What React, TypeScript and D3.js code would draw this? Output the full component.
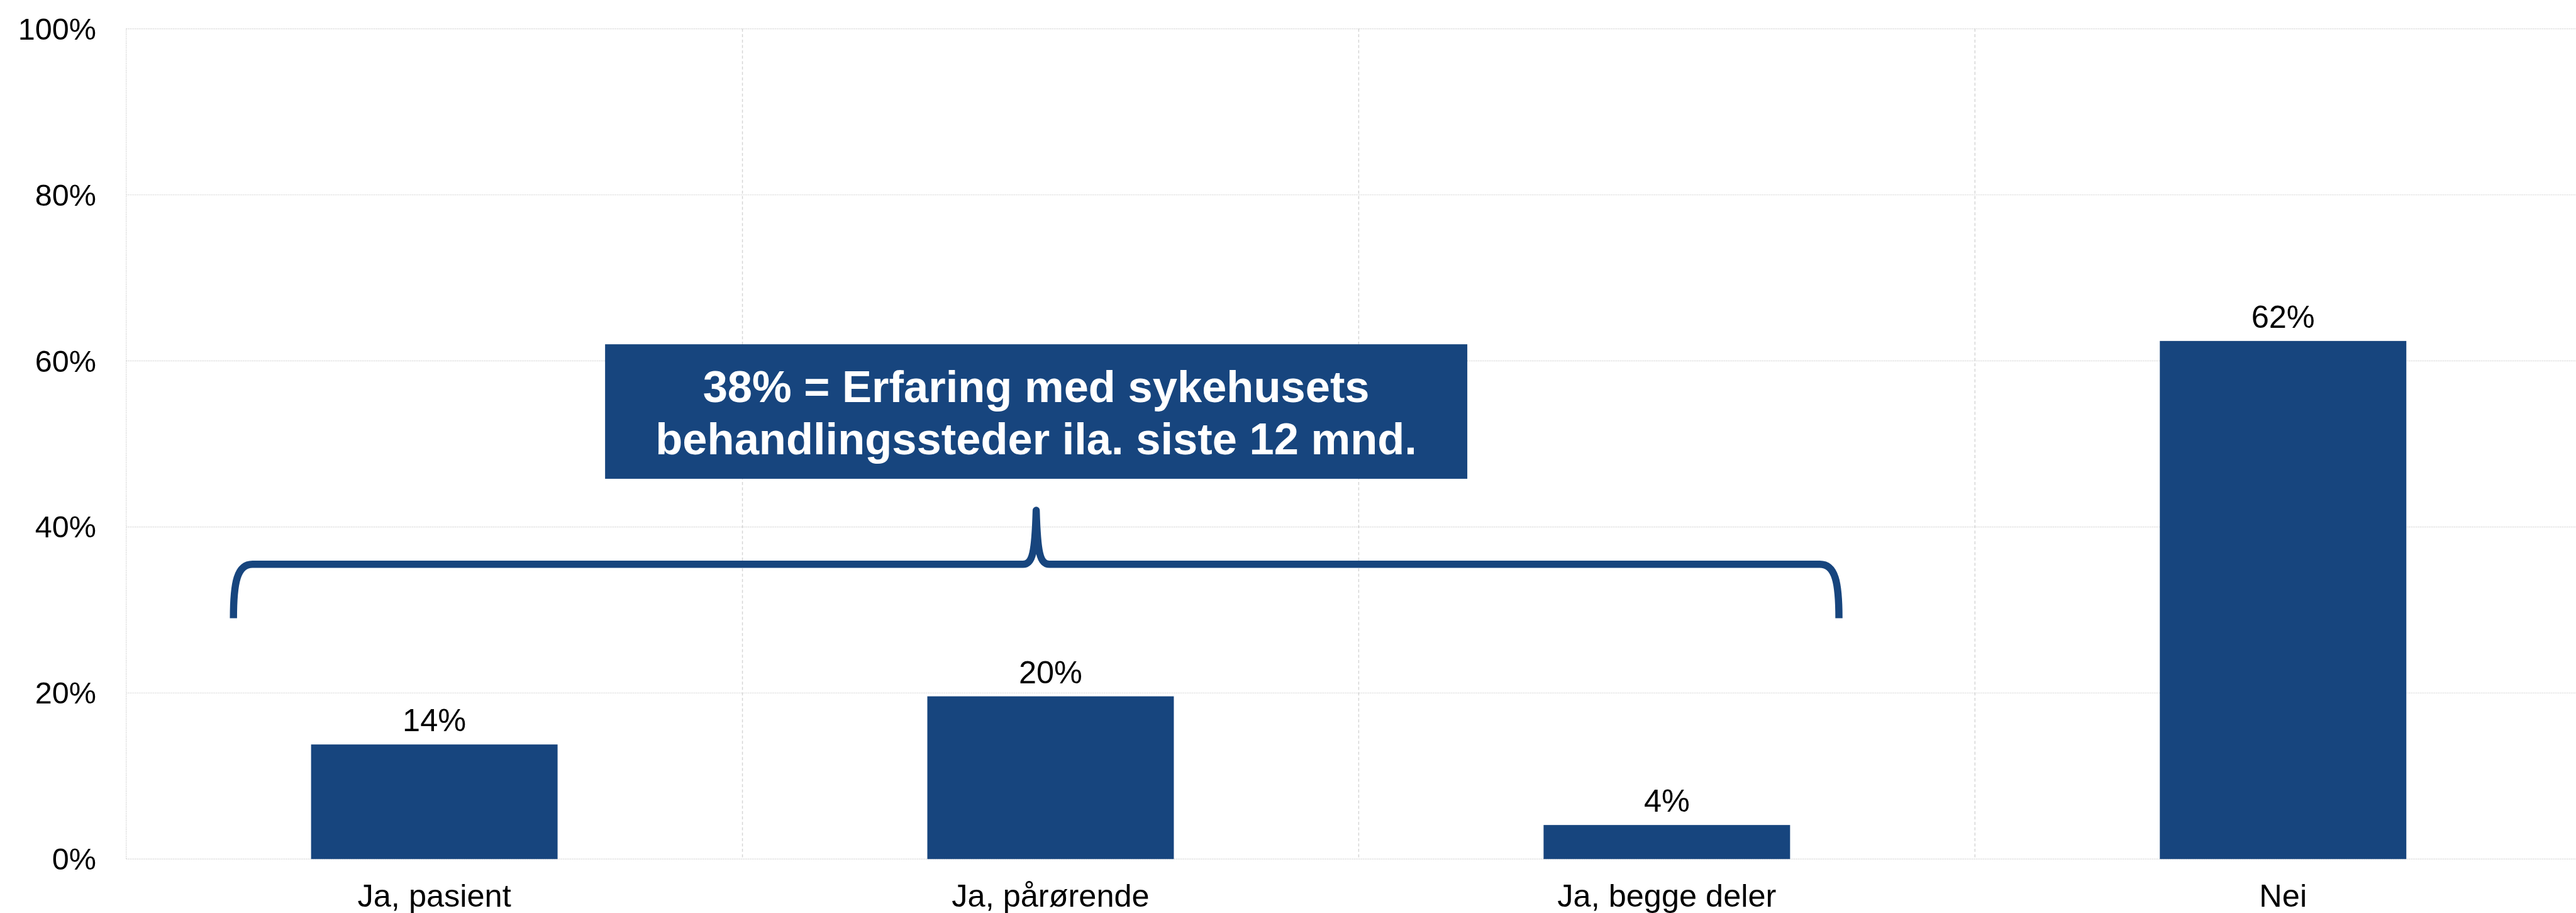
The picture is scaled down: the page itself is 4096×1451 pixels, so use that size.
import React, { useEffect } from 'react';
import * as d3 from 'd3';

const categories = ['Ja, pasient', 'Ja, pårørende', 'Ja, begge deler', 'Nei'];
const values = [13.8, 19.6, 4.1, 62.4];
const valueLabels = ['14%', '20%', '4%', '62%'];
const yTicks = [0, 20, 40, 60, 80, 100];
const noteLines = ['38% = Erfaring med sykehusets', 'behandlingssteder ila. siste 12 mnd.'];

const W = 4298;
const H = 1523;
const BLUE = '#17457E';
const FONT = '"Liberation Sans", Arial, sans-serif';

const App = () => {
    useEffect(() => {
        document.body.style.margin = '0';
    }, []);

    const left = 210;
    const top = 48;
    const bottom = 1433;
    const step = 1028.5;

    const x = d3.scaleBand<string>()
        .domain(categories)
        .range([left, left + step * categories.length])
        .padding(0);

    const y = d3.scaleLinear()
        .domain([0, 100])
        .range([bottom, top]);

    const bw = x.bandwidth();
    const barW = bw * 0.4;

    // bracket over the three "Ja" bars
    const bL = (x(categories[0]) as number) + 179;
    const bR = (x(categories[2]) as number) + bw - 227;
    const bC = (bL + bR) / 2;
    const yFoot = y(29);
    const yLine = y(35.5);
    const yPeak = y(42);
    const brace = d3.path();
    brace.moveTo(bL, yFoot);
    brace.bezierCurveTo(bL, yLine + 30, bL + 6, yLine, bL + 32, yLine);
    brace.lineTo(bC - 22, yLine);
    brace.bezierCurveTo(bC - 6, yLine, bC - 2, yLine - 20, bC, yPeak);
    brace.bezierCurveTo(bC + 2, yLine - 20, bC + 6, yLine, bC + 22, yLine);
    brace.lineTo(bR - 32, yLine);
    brace.bezierCurveTo(bR - 6, yLine, bR, yLine + 30, bR, yFoot);

    const boxW = 1439;
    const boxTop = y(62);
    const boxBottom = y(45.8);

    const vLines = d3.range(categories.length + 1).map(i => left + i * step);

    return (
        <svg
            width={4096}
            height={1451}
            viewBox={`0 0 ${W} ${H}`}
            style={{ display: 'block', background: '#fff' }}
            fontFamily={FONT}
        >
            {/* grid */}
            {yTicks.map(t => (
                <line key={'h' + t} x1={left} x2={W} y1={y(t)} y2={y(t)}
                    stroke="#d4d4d4" strokeWidth={1.5} strokeDasharray="1.5,1.5" />
            ))}
            {vLines.map((v, i) => (
                <line key={'v' + i} x1={v} x2={v} y1={top} y2={bottom}
                    stroke="#d4d4d4" strokeWidth={1.5} strokeDasharray={i === 0 ? '1.5,1.5' : '5,4'} />
            ))}

            {/* y labels */}
            {yTicks.map(t => (
                <text key={'yl' + t} x={160} y={y(t)} dy="0.35em" textAnchor="end" fontSize={51} fill="#000">
                    {t}%
                </text>
            ))}

            {/* bars */}
            {categories.map((c, i) => {
                const cx = (x(c) as number) + bw / 2;
                return (
                    <g key={c}>
                        <rect x={cx - barW / 2} y={y(values[i])} width={barW} height={bottom - y(values[i])} fill={BLUE} />
                        <text x={cx} y={y(values[i]) - 22} textAnchor="middle" fontSize={53} fill="#000">
                            {valueLabels[i]}
                        </text>
                        <text x={cx} y={1513} textAnchor="middle" fontSize={53} fill="#000">{c}</text>
                    </g>
                );
            })}

            {/* bracket */}
            <path d={brace.toString()} fill="none" stroke={BLUE} strokeWidth={12} strokeLinejoin="round" />

            {/* note box */}
            <rect x={bC - boxW / 2} y={boxTop} width={boxW} height={boxBottom - boxTop} fill={BLUE} />
            {noteLines.map((l, i) => (
                <text key={i} x={bC} y={boxTop + 96 + i * 88} textAnchor="middle" fontSize={74}
                    fontWeight="bold" fill="#fff">
                    {l}
                </text>
            ))}
        </svg>
    );
};

export default App;
